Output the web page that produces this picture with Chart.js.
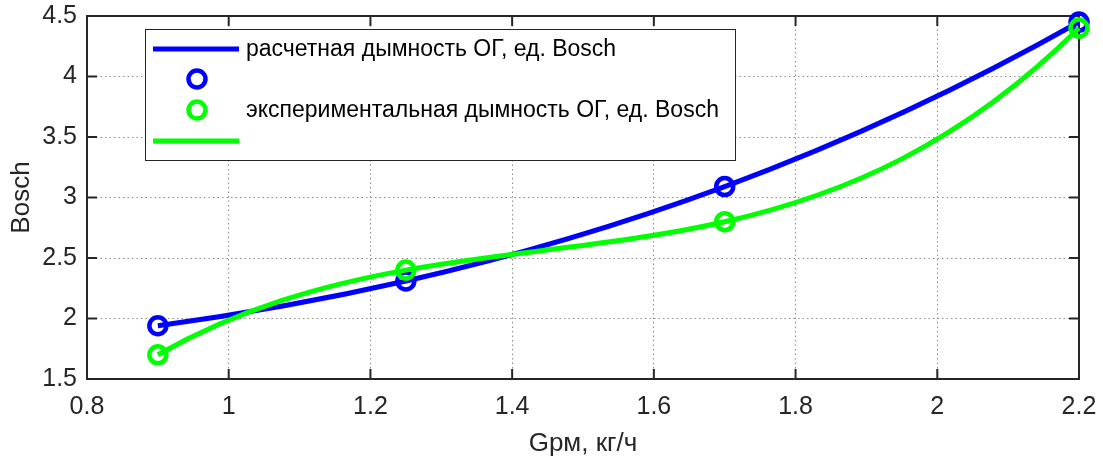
<!DOCTYPE html>
<html>
<head>
<meta charset="utf-8">
<script src="https://cdn.jsdelivr.net/npm/chart.js@4.4.1/dist/chart.umd.min.js"></script>
<style>
  html, body { margin: 0; padding: 0; background: #fff; }
</style>
</head>
<body>
<canvas id="myChart" width="1103" height="459"></canvas>
<script>
// расход рабочей смеси, кг/ч
let gpm = [0.9, 1.25, 1.7, 2.2]
// дымность ОГ, ед. Bosch
let calcSmoke = [1.94, 2.31, 3.09, 4.45]
let expSmoke = [1.70, 2.40, 2.80, 4.40]

let xTicks = [0.8, 1, 1.2, 1.4, 1.6, 1.8, 2, 2.2]
let yTicks = [1.5, 2, 2.5, 3, 3.5, 4, 4.5]

let calcLabel = 'расчетная дымность ОГ, ед. Bosch'
let expLabel = 'экспериментальная дымность ОГ, ед. Bosch'

let fontFamily = "'Liberation Sans', Arial, sans-serif"
let blue = '#0000ff'
let green = '#00ff00'
let axisColor = '#262626'

function points(ys) {
    return gpm.map((x, i) => ({ x: x, y: ys[i] }))
}

// derivative of the cubic through all the points, taken at each point
function knotSlopes(xs, ys) {
    return xs.map((xi, i) => {
        let d = 0
        xs.forEach((xj, j) => {
            let l
            if (j === i) {
                l = 0
                xs.forEach((xk, k) => { if (k !== i) l += 1 / (xi - xk) })
            } else {
                l = 1 / (xj - xi)
                xs.forEach((xk, k) => { if (k !== i && k !== j) l *= (xi - xk) / (xj - xk) })
            }
            d += ys[j] * l
        })
        return d
    })
}

// replace the line's bezier control points so the curve follows that cubic
let cubicCurve = {
    id: 'cubicCurve',
    beforeDatasetsDraw(chart) {
        let sx = chart.scales.x
        let sy = chart.scales.y
        chart.data.datasets.forEach((ds, i) => {
            if (!ds.showLine) return
            let line = chart.getDatasetMeta(i).dataset
            if (!line) return
            line.updateControlPoints(chart.chartArea, 'x')
            let vx = ds.data.map(p => p.x)
            let vy = ds.data.map(p => p.y)
            let m = knotSlopes(vx, vy)
            line.points.forEach((pt, k) => {
                if (k > 0) {
                    let h = (vx[k] - vx[k - 1]) / 3
                    pt.cp1x = sx.getPixelForValue(vx[k] - h)
                    pt.cp1y = sy.getPixelForValue(vy[k] - m[k] * h)
                }
                if (k < vx.length - 1) {
                    let h = (vx[k + 1] - vx[k]) / 3
                    pt.cp2x = sx.getPixelForValue(vx[k] + h)
                    pt.cp2y = sy.getPixelForValue(vy[k] + m[k] * h)
                }
            })
            line._path = undefined
        })
    }
}

// box with inward ticks on all four sides
let frame = {
    id: 'frame',
    beforeDatasetsDraw(chart) {
        let { ctx, chartArea: a, scales } = chart
        ctx.save()
        ctx.strokeStyle = axisColor
        ctx.lineWidth = 2
        ctx.strokeRect(a.left, a.top, a.right - a.left, a.bottom - a.top)
        ctx.beginPath()
        xTicks.forEach(v => {
            let px = scales.x.getPixelForValue(v)
            ctx.moveTo(px, a.bottom); ctx.lineTo(px, a.bottom - 10)
            ctx.moveTo(px, a.top); ctx.lineTo(px, a.top + 10)
        })
        yTicks.forEach(v => {
            let py = scales.y.getPixelForValue(v)
            ctx.moveTo(a.left, py); ctx.lineTo(a.left + 10, py)
            ctx.moveTo(a.right, py); ctx.lineTo(a.right - 10, py)
        })
        ctx.stroke()
        ctx.restore()
    }
}

// legend box inside the axes, one row per dataset
let boxLegend = {
    id: 'boxLegend',
    afterDatasetsDraw(chart) {
        let ctx = chart.ctx
        let box = { x: 145, y: 29, w: 590, h: 131 }
        let rowY = [49, 79, 110, 141]
        ctx.save()
        ctx.fillStyle = '#fff'
        ctx.fillRect(box.x, box.y, box.w, box.h)
        ctx.strokeStyle = axisColor
        ctx.lineWidth = 1
        ctx.strokeRect(box.x + 0.5, box.y + 0.5, box.w, box.h)
        chart.data.datasets.forEach((ds, i) => {
            let y = rowY[i]
            if (ds.showLine === false) {
                ctx.beginPath()
                ctx.arc(197, y, ds.pointRadius, 0, Math.PI * 2)
                ctx.strokeStyle = ds.pointBorderColor
                ctx.lineWidth = ds.pointBorderWidth
                ctx.stroke()
            } else {
                ctx.beginPath()
                ctx.moveTo(153, y)
                ctx.lineTo(239, y)
                ctx.strokeStyle = ds.borderColor
                ctx.lineWidth = ds.borderWidth
                ctx.stroke()
            }
            if (ds.label) {
                ctx.fillStyle = '#000'
                ctx.font = '23px ' + fontFamily
                ctx.textBaseline = 'middle'
                ctx.textAlign = 'left'
                ctx.fillText(ds.label, 246, y + 1)
            }
        })
        ctx.restore()
    }
}

let lineStyle = {
    showLine: true,
    borderWidth: 5,
    pointRadius: 0,
    cubicInterpolationMode: 'monotone',
    clip: false
}
let markerStyle = {
    showLine: false,
    pointRadius: 8.5,
    pointBorderWidth: 4.5,
    pointBackgroundColor: 'rgba(0,0,0,0)',
    clip: false
}

let ctx = document.getElementById('myChart').getContext('2d')
new Chart(ctx, {
    type: 'scatter',
    data: {
        datasets: [
            Object.assign({ label: calcLabel, data: points(calcSmoke), borderColor: blue, order: 3 }, lineStyle),
            Object.assign({ label: '', data: points(calcSmoke), pointBorderColor: blue, borderColor: blue, order: 2 }, markerStyle),
            Object.assign({ label: expLabel, data: points(expSmoke), pointBorderColor: green, borderColor: green, order: 1 }, markerStyle),
            Object.assign({ label: '', data: points(expSmoke), borderColor: green, order: 0 }, lineStyle)
        ]
    },
    options: {
        responsive: false,
        animation: false,
        devicePixelRatio: 1,
        layout: { padding: { top: 16, right: 24, left: 0, bottom: 0 } },
        plugins: {
            legend: { display: false },
            tooltip: { enabled: false }
        },
        scales: {
            x: {
                type: 'linear',
                min: 0.8,
                max: 2.2,
                afterBuildTicks: s => { s.ticks = xTicks.map(v => ({ value: v })) },
                afterFit: s => { s.height = 80; s.paddingLeft = 0; s.paddingRight = 0 },
                grid: { color: '#8c8c8c', lineWidth: 1, drawTicks: false },
                border: { display: false, dash: [1.5, 3] },
                ticks: {
                    padding: 13,
                    color: axisColor,
                    font: { family: fontFamily, size: 25 },
                    callback: v => String(v)
                },
                title: {
                    display: true,
                    text: 'Gрм, кг/ч',
                    color: axisColor,
                    font: { family: fontFamily, size: 26 },
                    padding: { top: 0, bottom: 0 }
                }
            },
            y: {
                min: 1.5,
                max: 4.5,
                afterBuildTicks: s => { s.ticks = yTicks.map(v => ({ value: v })) },
                afterFit: s => { s.width = 87; s.paddingTop = 0; s.paddingBottom = 0 },
                grid: { color: '#8c8c8c', lineWidth: 1, drawTicks: false },
                border: { display: false, dash: [1.5, 3] },
                ticks: {
                    padding: 10,
                    color: axisColor,
                    font: { family: fontFamily, size: 25 },
                    callback: v => String(v)
                },
                title: {
                    display: true,
                    text: 'Bosch',
                    color: axisColor,
                    font: { family: fontFamily, size: 26 },
                    padding: { top: 6, bottom: 0 }
                }
            }
        }
    },
    plugins: [cubicCurve, frame, boxLegend]
})
</script>
</body>
</html>
